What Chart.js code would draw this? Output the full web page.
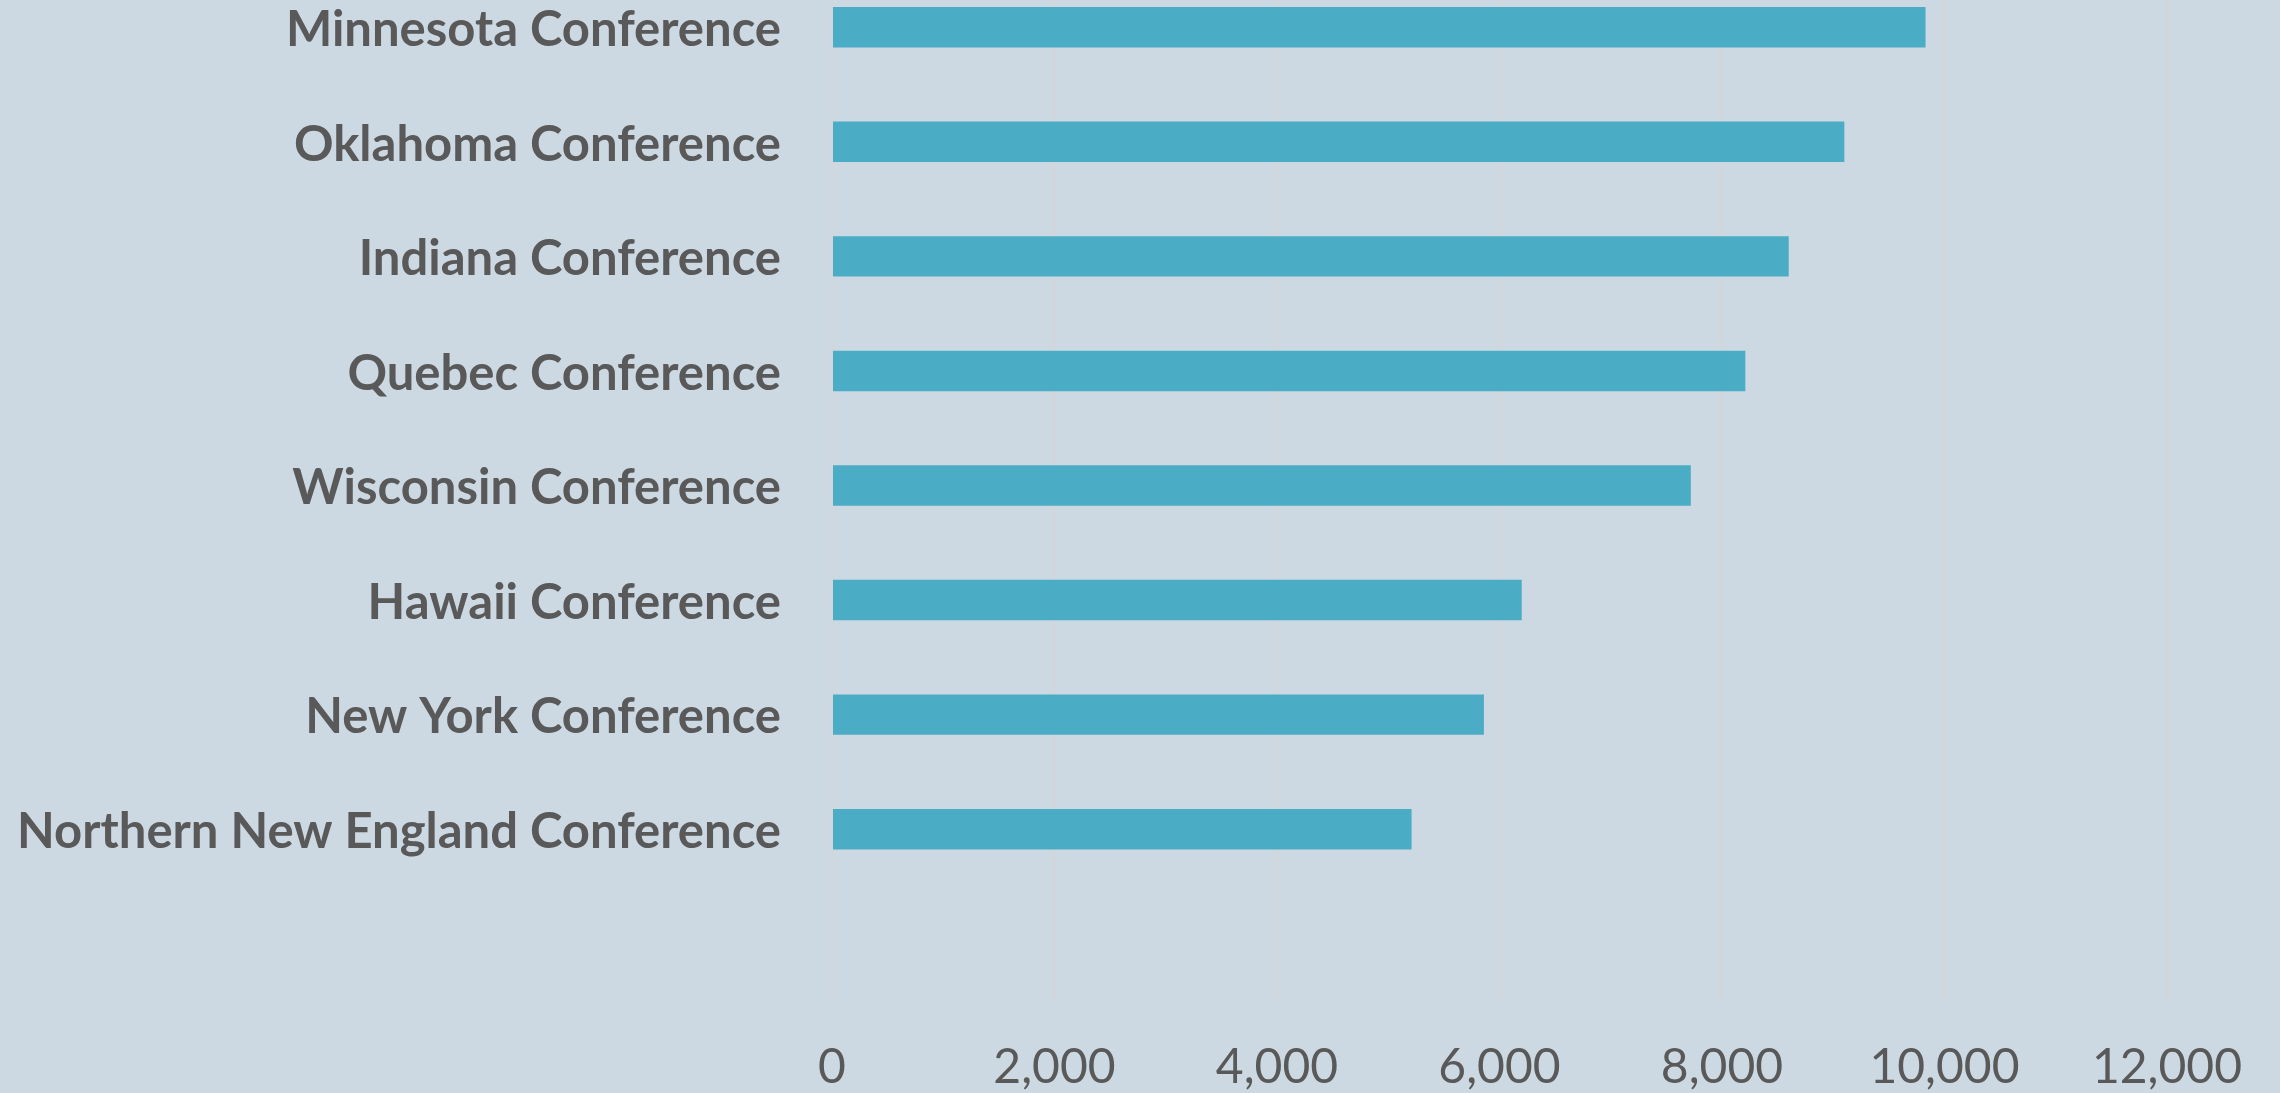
<!DOCTYPE html>
<html lang="en">
<head>
  <meta charset="UTF-8">
  <title>Conference bar chart</title>
  <script src="https://cdn.jsdelivr.net/npm/chart.js"></script>
  <style>
    html, body {
      margin: 0;
      padding: 0;
      width: 2280px;
      height: 1093px;
      overflow: hidden;
      background: #ccd9e2;
    }
    /* chart is cropped at the top like the source picture */
    .chart-box {
      position: absolute;
      left: 0;
      top: -60px;
      width: 2280px;
      height: 1153px;
    }
  </style>
</head>
<body>
  <div class="chart-box">
    <canvas id="barChart" width="2280" height="1153"></canvas>
  </div>

  <script>
    // categories, top to bottom (last one is the empty row of the source sheet)
    const conferences = [
      'Minnesota Conference',
      'Oklahoma Conference',
      'Indiana Conference',
      'Quebec Conference',
      'Wisconsin Conference',
      'Hawaii Conference',
      'New York Conference',
      'Northern New England Conference',
      ''
    ];
    const members = [9830, 9100, 8600, 8210, 7720, 6200, 5860, 5210, null];

    const xMin = 0;
    const xMax = 12000;
    const xStep = 2000;

    const ctx = document.getElementById('barChart').getContext('2d');

    new Chart(ctx, {
      type: 'bar',
      data: {
        labels: conferences,
        datasets: [{
          label: 'Members',
          data: members,
          backgroundColor: '#4bacc6',
          borderWidth: 0,
          categoryPercentage: 1,
          barPercentage: 0.353
        }]
      },
      options: {
        indexAxis: 'y',
        responsive: false,
        animation: false,
        devicePixelRatio: 1,
        layout: {
          padding: { top: 30, right: 106, bottom: 0, left: 0 }
        },
        plugins: {
          legend: { display: false },
          tooltip: { enabled: false }
        },
        scales: {
          x: {
            min: xMin,
            max: xMax,
            ticks: {
              stepSize: xStep,
              color: '#595959',
              padding: 38,
              font: { family: 'Lato', size: 48 }
            },
            grid: {
              color: '#d4d5d9',
              lineWidth: 2,
              drawTicks: false
            },
            border: { display: false },
            afterFit: (scale) => { scale.height = 92; }
          },
          y: {
            ticks: {
              color: '#595959',
              padding: 51,
              labelOffset: 3,
              font: { family: 'Lato', size: 49, weight: 'bold' }
            },
            grid: { display: false, drawTicks: false },
            border: { display: false },
            afterFit: (scale) => {
              scale.width = 832;
              // labels sit mid-band, no extra room needed above/below
              scale.paddingTop = 0;
              scale.paddingBottom = 0;
            }
          }
        }
      }
    });
  </script>
</body>
</html>
